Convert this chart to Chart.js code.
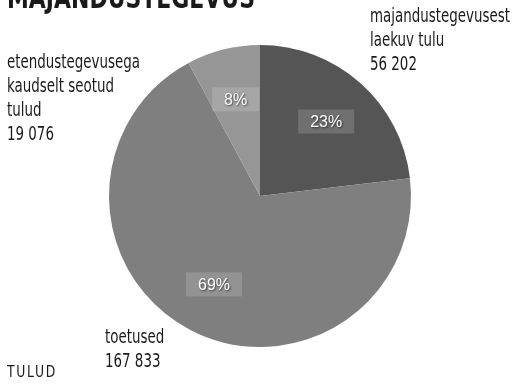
<!DOCTYPE html>
<html>
<head>
<meta charset="utf-8">
<script src="https://cdn.jsdelivr.net/npm/chart.js@4"></script>
<style>
  html, body { margin: 0; padding: 0; background: #fff; }
  canvas { display: block; }
</style>
</head>
<body>
<canvas id="tulud" width="516" height="385"></canvas>
<script>
var labels = ['majandustegevusest laekuv tulu', 'toetused', 'etendustegevusega kaudselt seotud tulud'];
var values = [56202, 167833, 19076];
var colors = ['#555555', '#7f7f7f', '#969696'];
var outerLabels = [
  { lines: ['majandustegevusest', 'laekuv tulu', '56 202'], x: 370, y: 17 },
  { lines: ['toetused', '167 833'], x: 105, y: 338 },
  { lines: ['etendustegevusega', 'kaudselt seotud', 'tulud', '19 076'], x: 7, y: 63 }
];
var narrow = '"DejaVu Sans Condensed", "Liberation Sans", sans-serif';

// draw text squeezed horizontally so the wide fallback font looks condensed
function squeezed(ctx, txt, x, y, sx) {
  ctx.save();
  ctx.translate(x, y);
  ctx.scale(sx, 1);
  ctx.fillText(txt, 0, 0);
  ctx.restore();
}

var labelPlugin = {
  id: 'labels',
  afterDatasetsDraw: function (chart) {
    var ctx = chart.ctx;
    var total = values.reduce(function (a, b) { return a + b; }, 0);
    var arcs = chart.getDatasetMeta(0).data;
    ctx.save();
    ctx.font = '16px "Liberation Sans", Arial, sans-serif';
    ctx.textAlign = 'center';
    ctx.textBaseline = 'middle';
    arcs.forEach(function (arc, i) {
      var p = arc.getProps(['x', 'y', 'startAngle', 'endAngle', 'outerRadius']);
      var mid = (p.startAngle + p.endAngle) / 2;
      var r = p.outerRadius * 0.66;
      var x = p.x + Math.cos(mid) * r;
      var y = p.y + Math.sin(mid) * r;
      var txt = Math.round(values[i] / total * 100) + '%';
      var w = ctx.measureText(txt).width + 24;
      ctx.fillStyle = 'rgba(255,255,255,0.16)';
      ctx.fillRect(x - w / 2, y - 12, w, 24);
      ctx.shadowColor = 'rgba(0,0,0,0.6)';
      ctx.shadowBlur = 2;
      ctx.shadowOffsetX = 1;
      ctx.shadowOffsetY = 1;
      ctx.fillStyle = '#ffffff';
      ctx.fillText(txt, x, y + 1);
      ctx.shadowColor = 'transparent';
    });
    ctx.restore();

    ctx.save();
    ctx.fillStyle = '#1a1a1a';
    ctx.textAlign = 'left';
    ctx.textBaseline = 'middle';
    ctx.font = '19px ' + narrow;
    var sx = 140 / ctx.measureText('majandustegevusest').width;
    outerLabels.forEach(function (l) {
      l.lines.forEach(function (s, k) {
        squeezed(ctx, s, l.x, l.y + k * 24, sx);
      });
    });
    // title, mostly cut off at the top edge
    ctx.font = 'bold 30px ' + narrow;
    ctx.textBaseline = 'alphabetic';
    var tx = 248 / ctx.measureText('MAJANDUSTEGEVUS').width;
    squeezed(ctx, 'MAJANDUSTEGEVUS', 7, 8, tx);
    // footer
    ctx.font = '16px ' + narrow;
    ctx.letterSpacing = '2px';
    var fx = 50 / ctx.measureText('TULUD').width;
    squeezed(ctx, 'TULUD', 7, 377, fx);
    ctx.restore();
  }
};

var chart = new Chart(document.getElementById('tulud').getContext('2d'), {
  type: 'pie',
  data: {
    labels: labels,
    datasets: [{
      data: values,
      backgroundColor: colors,
      borderWidth: 0
    }]
  },
  options: {
    responsive: false,
    animation: false,
    layout: { padding: { left: 4, right: 0, top: 45, bottom: 38 } },
    plugins: {
      legend: { display: false },
      tooltip: { enabled: false }
    }
  },
  plugins: [labelPlugin]
});
</script>
</body>
</html>
